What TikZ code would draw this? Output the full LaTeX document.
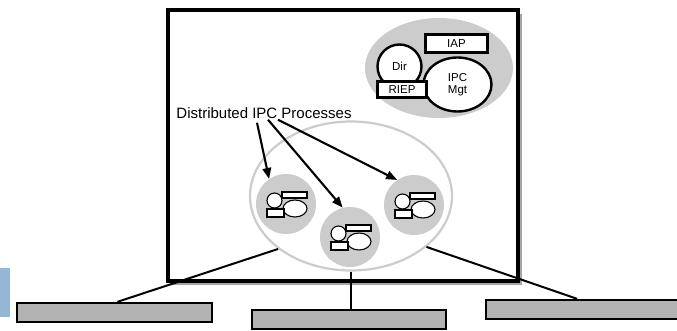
\documentclass[tikz,border=0pt]{standalone}
\usepackage{fontspec}
\setmainfont{Liberation Sans}
\usepackage{xcolor}
\usetikzlibrary{arrows.meta,shapes.geometric}
\definecolor{tabblue}{HTML}{95B7D5}
\definecolor{netgray}{HTML}{B3B3B3}

\begin{document}
\begin{tikzpicture}[
  x=1pt, y=-1pt,
  font=\fontsize{11.5}{12.5}\selectfont,
  >={Triangle[length=11pt,width=8.5pt]},
  part/.style={draw=black, line width=2.4pt, fill=white, inner sep=0pt, align=center},
  mini/.style={draw=black, line width=1.1pt, fill=white, inner sep=0pt},
  proc/.style={circle, fill=black!20, minimum size=60pt, inner sep=0pt},
  net/.style={draw=black, line width=2.4pt, fill=netgray, minimum height=19pt, inner sep=0pt},
  flow/.style={->, line width=2.1pt},
  link/.style={line width=2pt}
]
  \useasboundingbox (0,0) rectangle (677,331);

  % side tab
  \fill[tabblue] (0,268) rectangle (10,317);

  % system box with shadow
  \fill[black!35] (172,14) rectangle (522,285);
  \node[draw=black, line width=3.4pt, fill=white, minimum width=350pt,
    minimum height=271pt, inner sep=0pt] (sys) at (343,145.5) {};

  % management cluster
  \node[ellipse, fill=black!20, minimum width=148pt, minimum height=100pt] (mgr) at (439,68) {};
  \node[part, circle, minimum size=44pt] (dir) at (399.5,66.5) {Dir};
  \node[part, ellipse, minimum width=68pt, minimum height=54pt] (ipcm) at (457.5,84.5) {IPC\\Mgt};
  \node[part, minimum width=62pt, minimum height=18pt] (iap) at (456.5,43.5) {IAP};
  \node[part, minimum width=49pt, minimum height=16pt] (riep) at (402,89.5) {RIEP};

  % distributed processes
  \node[ellipse, draw=black!20, line width=2.2pt, minimum width=202pt, minimum height=149pt] (dist) at (351,196) {};
  \foreach \n/\x/\y in {1/286/204, 2/350/237, 3/414/205} {
    \node[proc] (p\n) at (\x,\y) {};
    \node[mini, circle, minimum size=15pt] (pd\n) at (\x-11.5,\y-3.5) {};
    \node[mini, ellipse, minimum width=24pt, minimum height=17pt] (pm\n) at (\x+9,\y+4.5) {};
    \node[mini, minimum width=25pt, minimum height=6pt] (pa\n) at (\x+8.5,\y-9) {};
    \node[mini, minimum width=17pt, minimum height=8pt] (pr\n) at (\x-10.5,\y+9) {};
  }

  \node[font=\fontsize{15}{16}\selectfont, inner sep=1pt] (lbl) at (264,113) {Distributed IPC Processes};
  \draw[flow] ([xshift=-7pt,yshift=-3pt]lbl.south) -- (p1.124);
  \draw[flow] ([xshift=4pt]lbl.south) -- (p2.104);
  \draw[flow] ([xshift=14pt]lbl.south) -- (p3.124);

  % networks below
  \node[net, minimum width=195pt] (lnet) at (114.5,312.5) {};
  \node[net, minimum width=194pt] (mnet) at (349,319.5) {};
  \node[net, minimum width=204pt] (rnet) at (588,309.5) {};
  \draw[link] (dist.216) -- ([xshift=3pt]lnet.north);
  \draw[link] (dist.south) -- (dist.south |- mnet.north);
  \draw[link] (dist.-34) -- ([xshift=-11pt]rnet.north);
\end{tikzpicture}
\end{document}
